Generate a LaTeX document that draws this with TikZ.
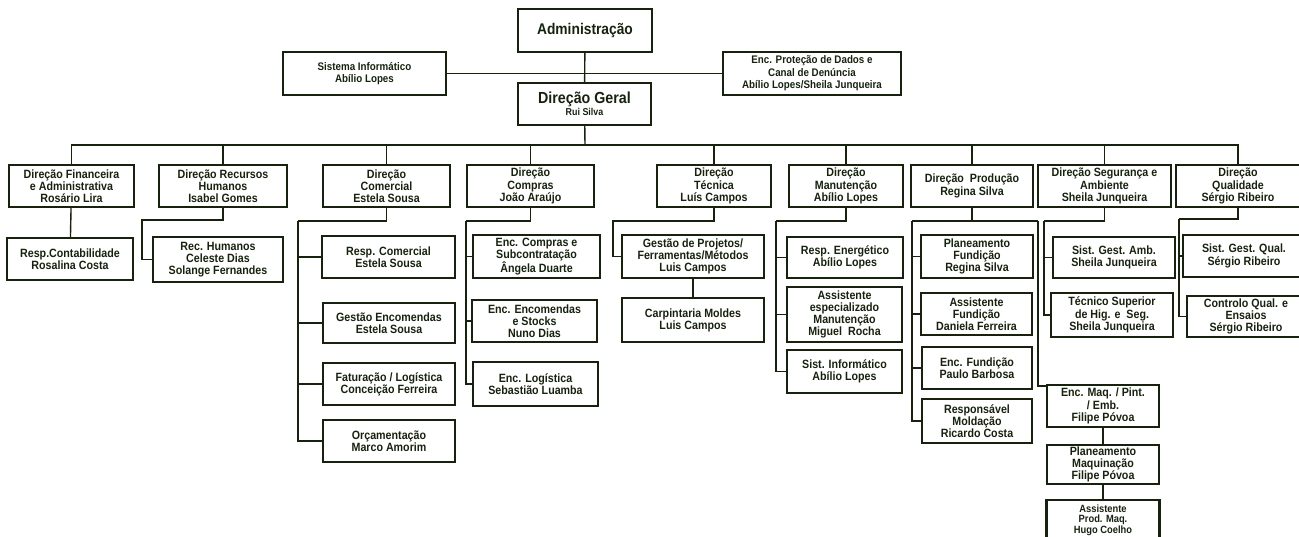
\documentclass[tikz,border=0pt]{standalone}
\usepackage{fontspec}
\setmainfont[FakeStretch=0.89]{Liberation Sans}
\usetikzlibrary{positioning}
\definecolor{ink}{RGB}{22,34,14}
\tikzset{
x=1pt, y=-1pt, % one unit is one pixel of the chart, y grows downwards
box/.style={draw=ink, line width=2.2pt, align=center, inner sep=1pt, text=ink, font=\bfseries\fontsize{12}{12.2}\selectfont}, % every unit of the chart
small/.style={font=\bfseries\fontsize{11}{12.5}\selectfont}, % the two side units at the top
sz/.style 2 args={minimum width=#1pt, minimum height=#2pt}, % size of a unit
link/.style={draw=ink, line width=1.4pt}, % lines between the units
}
\begin{document}
\begin{tikzpicture}
\useasboundingbox (0,0) rectangle (1299,537);
\clip (0,0) rectangle (1299,537);
        % top
        \node[box, sz={134}{43}, font=\bfseries\fontsize{15.5}{17}\selectfont] (adm) at (585,30.5) {Administração};
        \node[box, sz={133}{42}] (geral) at (584.5,104) {{\fontsize{16}{17}\selectfont Direção Geral}\\\fontsize{10}{11}\selectfont Rui Silva};
        \node[box, small, sz={163}{43}] (sist) at (364.5,73.5) {Sistema Informático\\Abílio Lopes};
        \node[box, small, sz={178}{43}] (prot) at (812,73.5) {Enc. Proteção de Dados e\\Canal de Denúncia\\Abílio Lopes/Sheila Junqueira};
        \coordinate (bus) at (585,145);
        % directions
        \node[box, sz={125}{42}] (fin) at (71.5,186) {Direção Financeira\\e Administrativa\\Rosário Lira};
        \node[box, sz={128}{42}] (rh) at (223,186) {Direção Recursos\\Humanos\\Isabel Gomes};
        \node[box, sz={127}{42}] (com) at (386.5,186) {Direção\\Comercial\\Estela Sousa};
        \node[box, sz={127}{42}] (comp) at (530.5,186) {Direção\\Compras\\João Araújo};
        \node[box, sz={114}{42}] (tec) at (714,186) {Direção\\Técnica\\Luís Campos};
        \node[box, sz={114}{42}] (man) at (846,186) {Direção\\Manutenção\\Abílio Lopes};
        \node[box, sz={122}{42}] (prod) at (972,186) {Direção~~Produção\\Regina Silva};
        \node[box, sz={133}{42}] (seg) at (1104.5,186) {Direção Segurança e\\Ambiente\\Sheila Junqueira};
        \node[box, sz={124}{42}] (qual) at (1238,186) {Direção\\Qualidade\\Sérgio Ribeiro};
        % units below
        \node[box, sz={126}{42}] (contab) at (70,259) {Resp.Contabilidade\\Rosalina Costa};
        \node[box, sz={130}{45}] (rhum) at (218,259.5) {Rec. Humanos\\Celeste Dias\\Solange Fernandes};
        \node[box, sz={133}{42}] (respcom) at (388.5,257) {Resp. Comercial\\Estela Sousa};
        \node[box, sz={132}{40}] (gestenc) at (389,323) {Gestão Encomendas\\Estela Sousa};
        \node[box, sz={132}{42}] (fatur) at (389,384) {Faturação / Logística\\Conceição Ferreira};
        \node[box, sz={132}{42}] (orc) at (389,441) {Orçamentação\\Marco Amorim};
        \node[box, sz={127}{43}] (enccomp) at (536.5,256.5) {Enc. Compras e\\Subcontratação\\Ângela Duarte};
        \node[box, sz={125}{42}] (encenc) at (534.5,321) {Enc. Encomendas\\e Stocks\\Nuno Dias};
        \node[box, sz={125}{44}] (enclog) at (535.5,384) {Enc. Logística\\Sebastião Luamba};
        \node[box, sz={142}{43}] (gestproj) at (693,256.5) {Gestão de Projetos/\\Ferramentas/Métodos\\Luis Campos};
        \node[box, sz={142}{44}] (carp) at (693,320) {Carpintaria Moldes\\Luis Campos};
        \node[box, sz={116}{41}] (resen) at (845,257.5) {Resp. Energético\\Abílio Lopes};
        \node[box, sz={115}{55}] (assesp) at (844.5,314.5) {Assistente\\especializado\\Manutenção\\Miguel~~Rocha};
        \node[box, sz={115}{43}] (sistinf) at (844.5,371.5) {Sist. Informático\\Abílio Lopes};
        \node[box, sz={112}{43}] (planf) at (977,256.5) {Planeamento\\Fundição\\Regina Silva};
        \node[box, sz={111}{42}] (assf) at (976.5,314) {Assistente\\Fundição\\Daniela Ferreira};
        \node[box, sz={110}{42}] (encf) at (977,368) {Enc. Fundição\\Paulo Barbosa};
        \node[box, sz={110}{44}] (respm) at (977,421) {Responsável\\Moldação\\Ricardo Costa};
        \node[box, sz={112}{42}] (encmaq) at (1103,406) {Enc. Maq. / Pint.\\/ Emb.\\Filipe Póvoa};
        \node[box, sz={112}{39}] (planm) at (1103,464.5) {Planeamento\\Maquinação\\Filipe Póvoa};
        \node[box, sz={113}{40}, font=\bfseries\fontsize{10.5}{10.5}\selectfont] (assprod) at (1103,520) {Assistente\\Prod. Maq.\\Hugo Coelho};
        \node[box, sz={122}{41}] (sga) at (1114,257.5) {Sist. Gest. Amb.\\Sheila Junqueira};
        \node[box, sz={122}{44}] (tecsup) at (1112,315) {Técnico Superior\\de Hig. e~~Seg.\\Sheila Junqueira};
        \node[box, sz={122}{42}] (sgq) at (1244,256) {Sist. Gest. Qual.\\Sérgio Ribeiro};
        \node[box, sz={118}{41}] (controlo) at (1246,316.5) {Controlo Qual. e\\Ensaios\\Sérgio Ribeiro};
        % links
        \draw[link] (adm) -- (geral);
        \draw[link] (sist) -- (prot);
        \draw[link] (geral) -- (bus);
        \foreach \n in {fin,rh,com,comp,tec,man,prod,seg,qual}
            \draw[link] (\n.north) |- (bus);
        \draw[link] (fin) -- (contab);
        \coordinate (rhbar) at (142,220);
        \draw[link] (rh.south) |- (rhbar) |- (rhum.west);
        \coordinate (combar) at (298,221);
        \draw[link] (com.south) |- (combar);
        \foreach \n in {respcom,gestenc,fatur,orc}
            \draw[link] (combar) |- (\n.west);
        \coordinate (compbar) at (466,221);
        \draw[link] (comp.south) |- (compbar);
        \foreach \n in {enccomp,encenc,enclog}
            \draw[link] (compbar) |- (\n.west);
        \coordinate (tecbar) at (613,221);
        \draw[link] (tec.south) |- (tecbar) |- (gestproj.west);
        \draw[link] (gestproj) -- (carp);
        \coordinate (manbar) at (776,221);
        \draw[link] (man.south) |- (manbar);
        \foreach \n in {resen,assesp,sistinf}
            \draw[link] (manbar) |- (\n.west);
        \coordinate (prodl) at (912,221);
        \coordinate (prodr) at (1038,221);
        \draw[link] (prod.south) -- (prod.south |- prodl);
        \draw[link] (prodl) -- (prodr);
        \foreach \n in {planf,assf,encf,respm}
            \draw[link] (prodl) |- (\n.west);
        \draw[link] (prodr) |- ([yshift=-2pt]encmaq.north west);
        \draw[link] (encmaq) -- (planm);
        \draw[link] (planm) -- (assprod);
        \coordinate (segbar) at (1044,221);
        \draw[link] (seg.south) |- (segbar);
        \foreach \n in {sga,tecsup}
            \draw[link] (segbar) |- (\n.west);
        \coordinate (qualbar) at (1179,219);
        \draw[link] (qual.south) |- (qualbar);
        \foreach \n in {sgq,controlo}
            \draw[link] (qualbar) |- (\n.west);
\end{tikzpicture}
\end{document}
